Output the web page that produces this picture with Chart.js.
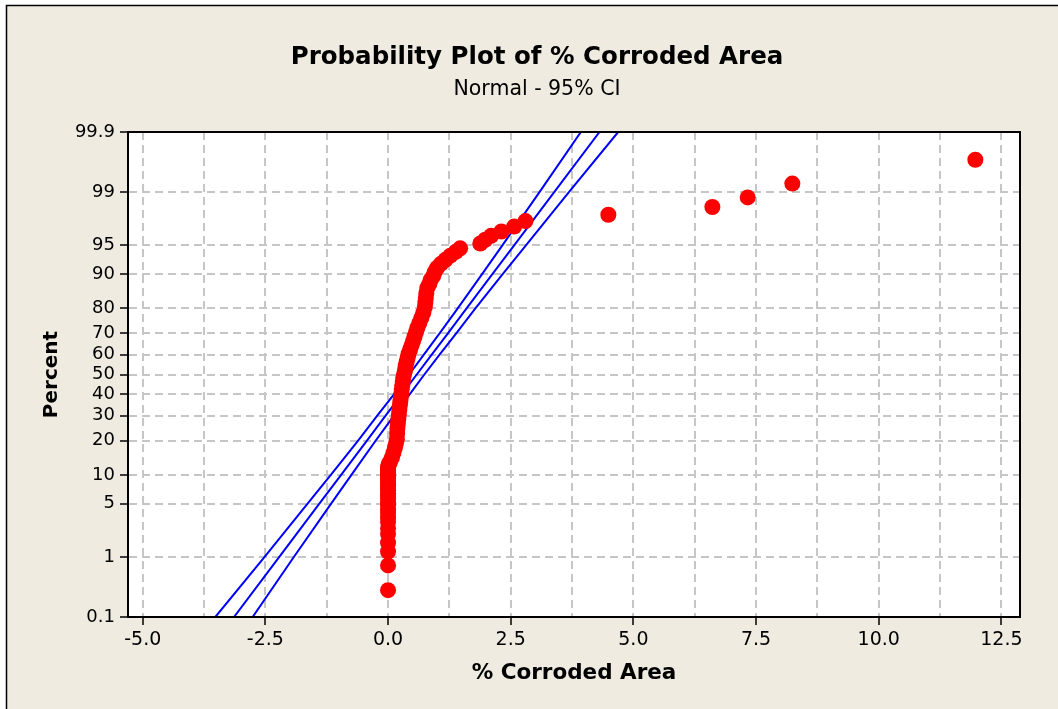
<!DOCTYPE html>
<html>
<head>
<meta charset="utf-8">
<script src="https://cdn.jsdelivr.net/npm/chart.js@4.4.1/dist/chart.umd.min.js"></script>
<style>
  html, body { margin: 0; padding: 0; background: #ffffff; }
  #wrap { position: relative; width: 1058px; height: 709px; }
</style>
</head>
<body>
<div id="wrap"><canvas id="c"></canvas></div>
<script>
// ---------- data ----------
const chartTitle = "Probability Plot of % Corroded Area";
const chartSubtitle = "Normal - 95% CI";
const xAxisTitle = "% Corroded Area";
const yAxisTitle = "Percent";

// percent tick labels on the probability axis
const percentTicks = [0.1, 1, 5, 10, 20, 30, 40, 50, 60, 70, 80, 90, 95, 99, 99.9];

// observed points: % corroded area and plotted percent
const corrodedArea = [
  0.0, 0.0, 0.0, 0.0, 0.0, 0.0, 0.0, 0.0, 0.0, 0.0, 0.0, 0.0, 0.0, 0.0, 0.0,
  0.0, 0.0, 0.0, 0.0, 0.0, 0.0, 0.0, 0.0, 0.0, 0.0, 0.0, 0.0, 0.01, 0.02,
  0.04, 0.08, 0.11, 0.14, 0.16, 0.18, 0.185, 0.19, 0.20, 0.21, 0.22, 0.23, 0.24,
  0.25, 0.26, 0.27, 0.28, 0.29, 0.30, 0.31, 0.33, 0.35, 0.36, 0.38, 0.40, 0.42,
  0.45, 0.48, 0.51, 0.54, 0.57, 0.60, 0.64, 0.68, 0.72, 0.75, 0.76, 0.77, 0.78,
  0.80, 0.84, 0.87, 0.92, 0.95, 1.00, 1.08, 1.17, 1.27, 1.38, 1.47,
  1.88, 1.98, 2.10, 2.31, 2.57, 2.80, 4.49, 6.61, 7.33, 8.24, 11.97
];
const percentRank = [
  0.3, 0.75, 1.2, 1.6, 2.1, 2.5, 3.0, 3.4, 3.9, 4.3, 4.8, 5.2, 5.7, 6.1, 6.5,
  7.0, 7.4, 7.9, 8.3, 8.8, 9.2, 9.7, 10.1, 10.5, 11.0, 11.4, 11.9, 12.3, 12.8,
  13.3, 14.5, 15.9, 17.5, 19.0, 20.5, 22.5, 24.5, 26.5, 28.5, 30.5, 32.5, 34.5,
  36.5, 38.5, 40.5, 42.5, 44.5, 46.5, 48.5, 50.5, 52.5, 54.5, 56.5, 58.5, 60.5,
  62.5, 64.5, 66.5, 68.5, 70.5, 72.5, 74.5, 76.5, 78.5, 80.5, 82.0, 83.5, 85.0,
  86.5, 87.5, 88.6, 89.5, 90.4, 91.3, 92.1, 92.8, 93.5, 94.1, 94.6,
  95.25, 95.7, 96.14, 96.58, 97.03, 97.47, 97.91, 98.36, 98.80, 99.25, 99.69
];

// fitted line and 95% CI bounds, read at each percent tick level
const fitPercent = [0.1, 1, 5, 10, 20, 30, 40, 50, 60, 70, 80, 90, 95, 99, 99.9];
const fitLine    = [-3.14, -2.22, -1.40, -0.96, -0.43, -0.05, 0.28, 0.585, 0.89, 1.22, 1.60, 2.13, 2.57, 3.39, 4.31];
const ciLower    = [-3.52, -2.52, -1.64, -1.17, -0.61, -0.22, 0.12, 0.43, 0.73, 1.05, 1.42, 1.92, 2.33, 3.09, 3.93];
const ciUpper    = [-2.76, -1.92, -1.16, -0.75, -0.25, 0.12, 0.44, 0.74, 1.05, 1.39, 1.78, 2.34, 2.81, 3.69, 4.69];

// ---------- probability (normal) scale transform ----------
function probit(p) {
  const a=[-3.969683028665376e+01,2.209460984245205e+02,-2.759285104469687e+02,1.383577518672690e+02,-3.066479806614716e+01,2.506628277459239e+00];
  const b=[-5.447609879822406e+01,1.615858368580409e+02,-1.556989798598866e+02,6.680131188771972e+01,-1.328068155288572e+01];
  const c=[-7.784894002430293e-03,-3.223964580411365e-01,-2.400758277161838e+00,-2.549732539343734e+00,4.374664141464968e+00,2.938163982698783e+00];
  const d=[7.784695709041462e-03,3.224671290700398e-01,2.445134137142996e+00,3.754408661907416e+00];
  const pl = 0.02425, ph = 1 - pl;
  let q, r;
  if (p < pl) { q = Math.sqrt(-2*Math.log(p)); return (((((c[0]*q+c[1])*q+c[2])*q+c[3])*q+c[4])*q+c[5])/((((d[0]*q+d[1])*q+d[2])*q+d[3])*q+1); }
  if (p <= ph) { q = p - 0.5; r = q*q; return (((((a[0]*r+a[1])*r+a[2])*r+a[3])*r+a[4])*r+a[5])*q/(((((b[0]*r+b[1])*r+b[2])*r+b[3])*r+b[4])*r+1); }
  q = Math.sqrt(-2*Math.log(1-p)); return -(((((c[0]*q+c[1])*q+c[2])*q+c[3])*q+c[4])*q+c[5])/((((d[0]*q+d[1])*q+d[2])*q+d[3])*q+1);
}
const pz = pct => probit(pct / 100);

const pointData = corrodedArea.map((x, i) => ({ x: x, y: pz(percentRank[i]) }));
const toLine = arr => arr.map((x, i) => ({ x: x, y: pz(fitPercent[i]) }));

const FONT = "'DejaVu Sans', 'Noto Sans', sans-serif";
const BG = '#EFEBE1';

const framePlugin = {
  id: 'frame',
  beforeDraw(chart) {
    const { ctx, chartArea: ca, width, height } = chart;
    ctx.save();
    ctx.fillStyle = '#ffffff';
    ctx.fillRect(0, 0, width, height);
    ctx.fillStyle = BG;
    ctx.fillRect(6, 5, width - 6, height - 5);
    ctx.strokeStyle = '#000000';
    ctx.lineWidth = 1.5;
    ctx.beginPath();
    ctx.moveTo(6.5, height);
    ctx.lineTo(6.5, 5.5);
    ctx.lineTo(width, 5.5);
    ctx.stroke();
    ctx.fillStyle = '#ffffff';
    ctx.fillRect(ca.left, ca.top, ca.right - ca.left, ca.bottom - ca.top);
    ctx.restore();
  },
  afterDraw(chart) {
    const { ctx, chartArea: ca } = chart;
    ctx.save();
    ctx.strokeStyle = '#000000';
    ctx.lineWidth = 2;
    ctx.strokeRect(ca.left, ca.top, ca.right - ca.left, ca.bottom - ca.top);
    ctx.restore();
  }
};

const isMajorX = v => Math.abs(v / 2.5 - Math.round(v / 2.5)) < 1e-6;

new Chart(document.getElementById('c'), {
  type: 'scatter',
  data: {
    datasets: [
      {
        label: 'Data',
        data: pointData,
        backgroundColor: '#FF0000',
        borderWidth: 0,
        pointRadius: 8,
        pointHoverRadius: 8,
        order: 0
      },
      {
        label: 'Fit',
        data: toLine(fitLine),
        showLine: true,
        borderColor: '#0000FF',
        borderWidth: 2,
        pointRadius: 0,
        tension: 0,
        order: 1
      },
      {
        label: 'Lower CI',
        data: toLine(ciLower),
        showLine: true,
        borderColor: '#0000FF',
        borderWidth: 2,
        pointRadius: 0,
        tension: 0,
        order: 1
      },
      {
        label: 'Upper CI',
        data: toLine(ciUpper),
        showLine: true,
        borderColor: '#0000FF',
        borderWidth: 2,
        pointRadius: 0,
        tension: 0,
        order: 1
      }
    ]
  },
  options: {
    responsive: true,
    maintainAspectRatio: false,
    devicePixelRatio: 1,
    animation: false,
    events: [],
    layout: { padding: { left: 16, right: 0, top: 0, bottom: 0 } },
    plugins: {
      legend: { display: false },
      tooltip: { enabled: false },
      title: {
        display: true,
        text: chartTitle,
        color: '#000000',
        font: { family: FONT, size: 24.5, weight: 'bold', lineHeight: 1.2 },
        padding: { top: 43.3, bottom: 5 }
      },
      subtitle: {
        display: true,
        text: chartSubtitle,
        color: '#000000',
        font: { family: FONT, size: 20.5, weight: 'normal', lineHeight: 1.2 },
        padding: { top: 0, bottom: 29.7 }
      }
    },
    scales: {
      x: {
        type: 'linear',
        position: 'bottom',
        min: -5.30,
        max: 12.88,
        afterFit: s => { s.height = 92; },
        ticks: {
          stepSize: 1.25,
          includeBounds: false,
          autoSkip: false,
          maxRotation: 0,
          padding: 4,
          color: '#000000',
          font: { family: FONT, size: 19 },
          callback: v => isMajorX(v) ? Number(v).toFixed(1) : ''
        },
        grid: {
          color: '#C6C6C6',
          lineWidth: 2,
          drawTicks: true,
          tickLength: 8,
          tickWidth: 1.5,
          tickColor: c => (c.tick && isMajorX(c.tick.value)) ? '#000000' : 'rgba(0,0,0,0)'
        },
        border: { display: true, color: '#000000', width: 2, dash: [8, 5] },
        title: {
          display: true,
          text: xAxisTitle,
          color: '#000000',
          font: { family: FONT, size: 21.5, weight: 'bold', lineHeight: 1.2 },
          padding: { top: 0, bottom: 23 }
        }
      },
      y: {
        type: 'linear',
        position: 'left',
        min: pz(0.1),
        max: pz(99.9),
        afterFit: s => { s.width = 112; },
        afterBuildTicks: s => { s.ticks = percentTicks.map(p => ({ value: pz(p) })); },
        ticks: {
          autoSkip: false,
          padding: 5,
          color: '#000000',
          font: { family: FONT, size: 18 },
          callback: (v, i) => String(percentTicks[i])
        },
        grid: {
          color: '#C6C6C6',
          lineWidth: 2,
          drawTicks: true,
          tickLength: 8,
          tickWidth: 1.5,
          tickColor: '#000000'
        },
        border: { display: true, color: '#000000', width: 2, dash: [8, 5] },
        title: {
          display: true,
          text: yAxisTitle,
          color: '#000000',
          font: { family: FONT, size: 20, weight: 'bold', lineHeight: 1.2 },
          padding: { top: 24, bottom: 0 }
        }
      },
      yR: {
        type: 'linear',
        position: 'right',
        display: true,
        min: 0,
        max: 1,
        afterFit: s => { s.width = 38; },
        ticks: { display: false },
        grid: { display: false, drawOnChartArea: false },
        border: { display: false }
      }
    }
  },
  plugins: [framePlugin]
});
</script>
</body>
</html>
